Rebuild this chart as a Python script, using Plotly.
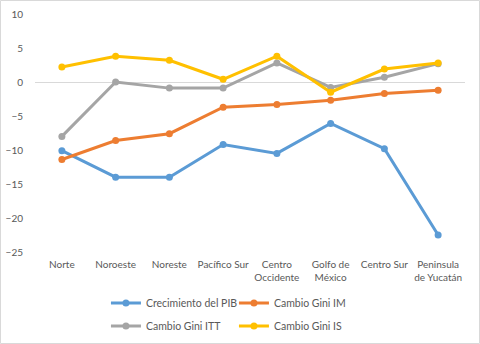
import plotly.graph_objects as go

regions = ["Norte", "Noroeste", "Noreste", "Pacífico Sur", "Centro<br>Occidente",
           "Golfo de<br>México", "Centro Sur", "Peninsula<br>de Yucatán"]
crec_pib = [-10.1, -14.0, -14.0, -9.2, -10.5, -6.1, -9.8, -22.5]
gini_im = [-11.4, -8.6, -7.6, -3.7, -3.3, -2.7, -1.7, -1.2]
gini_itt = [-8.0, 0.0, -0.9, -0.9, 2.8, -0.8, 0.7, 2.7]
gini_is = [2.2, 3.8, 3.2, 0.4, 3.8, -1.5, 1.9, 2.8]

series = [
    ("Crecimiento del PIB", crec_pib, "#5B9BD5", "legend"),
    ("Cambio Gini IM", gini_im, "#ED7D31", "legend"),
    ("Cambio Gini ITT", gini_itt, "#A5A5A5", "legend2"),
    ("Cambio Gini IS", gini_is, "#FFC000", "legend2"),
]

FONT = "Lato"
TXT = "#595959"

fig = go.Figure()
for name, vals, col, lg in series:
    fig.add_trace(go.Scatter(
        x=regions, y=vals, name=name, mode="lines+markers",
        line=dict(color=col, width=3),
        marker=dict(color=col, size=7),
        legend=lg,
    ))

W, H = 480, 344
L, R, T, B = 35, 15, 14, 92
pw, ph = W - L - R, H - T - B

legend_common = dict(
    orientation="h", xanchor="left", yanchor="middle",
    x=0.165, font=dict(family=FONT, size=10.5, color=TXT),
    entrywidth=83, entrywidthmode="pixels", itemwidth=30,
    bgcolor="rgba(0,0,0,0)",
)

fig.update_layout(
    width=W, height=H,
    margin=dict(l=L, r=R, t=T, b=B, autoexpand=False),
    paper_bgcolor="white", plot_bgcolor="white",
    font=dict(family=FONT, size=10, color=TXT),
    showlegend=True,
    legend=dict(**legend_common, y=(ph - (303 - T)) / ph),
    legend2=dict(**legend_common, y=(ph - (326 - T)) / ph),
    xaxis=dict(
        type="category", range=[-0.5, 7.5], showgrid=False, showline=False,
        zeroline=False, ticks="outside", ticklen=3, tickcolor="rgba(0,0,0,0)",
        tickfont=dict(family=FONT, size=10, color=TXT), automargin=False,
    ),
    yaxis=dict(
        range=[-25, 10], dtick=5, tick0=0, showgrid=False, showline=False,
        zeroline=True, zerolinecolor="#d9d9d9", zerolinewidth=1,
        ticks="outside", ticklen=9, tickcolor="rgba(0,0,0,0)",
        tickfont=dict(family=FONT, size=10, color=TXT), automargin=False,
    ),
    shapes=[dict(
        type="rect", xref="paper", yref="paper",
        x0=-(L - 0.5) / pw, x1=1 + (R - 0.5) / pw,
        y0=-(B - 0.5) / ph, y1=1 + (T - 0.5) / ph,
        line=dict(color="#d9d9d9", width=1), fillcolor="rgba(0,0,0,0)",
        layer="below",
    )],
)

fig.write_html(
    "out.html",
    config={"displayModeBar": False},
    post_script="document.body.style.margin='0px';document.body.style.overflow='hidden';",
)
